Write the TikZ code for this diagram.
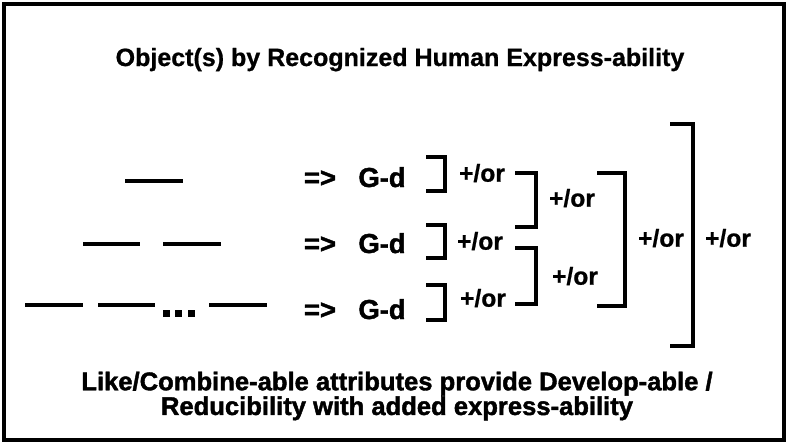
\documentclass[tikz,border=0pt]{standalone}
\usepackage{fontspec}
\setmainfont{Liberation Sans}
\newfontfamily\heavyfont{Liberation Sans Bold}[FakeBold=1.6]
\newfontfamily\boldfont{Liberation Sans Bold}[FakeBold=0.8]
\tikzset{
  frame/.style={draw, line width=2.8pt},
  dashline/.style={line width=2.85pt},
  brkt/.style={line width=3.2pt, line cap=rect},
  titletext/.style={anchor=base, inner sep=0, font=\boldfont\fontsize{17.8}{20}\selectfont},
  mapto/.style={anchor=base, inner sep=0, font=\heavyfont\fontsize{19.5}{22}\selectfont},
  ortext/.style={anchor=center, inner sep=0, font=\boldfont\fontsize{17.5}{20}\selectfont},
  notetext/.style={anchor=center, align=center, inner sep=0, font=\heavyfont\fontsize{18.2}{17.6}\selectfont}
}
\begin{document}
\begin{tikzpicture}
          \useasboundingbox (0,0) rectangle (19.7,11.1);
          % Frame and title:
          \draw[frame] (0.1,0.1) rectangle (19.6,11.0);
          \node[titletext] (title) at (10.0, 9.45){Object(s) by Recognized Human Express-ability};
          % Objects, one, two, many:
          \draw[dashline] (3.125, 6.575) -- (4.575, 6.575);
          \draw[dashline] (2.075, 5.0) -- (3.5, 5.0);
          \draw[dashline] (4.075, 5.0) -- (5.525, 5.0);
          \draw[dashline] (0.625, 3.475) -- (2.075, 3.475);
          \draw[dashline] (2.45, 3.475) -- (3.875, 3.475);
          \draw[dashline] (5.225, 3.475) -- (6.675, 3.475);
          \foreach \dx in {4.15, 4.4625, 4.7875}
            \fill (\dx-0.0875, 3.175) rectangle (\dx+0.0875, 3.35);
          % Mappings:
          \node[mapto] (imp1) at (8.0, 6.425){=>};
          \node[mapto] (imp2) at (8.0, 4.775){=>};
          \node[mapto] (imp3) at (8.0, 3.125){=>};
          \node[mapto] (gd1) at (9.55, 6.425){G-d};
          \node[mapto] (gd2) at (9.55, 4.775){G-d};
          \node[mapto] (gd3) at (9.55, 3.125){G-d};
          % Brackets:
          \draw[brkt] (10.7, 7.175) -- (11.125, 7.175) -- (11.125, 6.325) -- (10.7, 6.325);
          \draw[brkt] (10.7, 5.475) -- (11.125, 5.475) -- (11.125, 4.65) -- (10.7, 4.65);
          \draw[brkt] (10.7, 3.975) -- (11.125, 3.975) -- (11.125, 3.1) -- (10.7, 3.1);
          \node[ortext] (or1) at (12.05, 6.775){+/or};
          \node[ortext] (or2) at (12.0, 5.075){+/or};
          \node[ortext] (or3) at (12.075, 3.65){+/or};
          \draw[brkt] (12.925, 6.775) -- (13.4, 6.775) -- (13.4, 5.425) -- (12.925, 5.425);
          \draw[brkt] (12.925, 4.9) -- (13.4, 4.9) -- (13.4, 3.5) -- (12.925, 3.5);
          \node[ortext] (or12) at (14.3, 6.15){+/or};
          \node[ortext] (or23) at (14.375, 4.2){+/or};
          \draw[brkt] (14.975, 6.775) -- (15.625, 6.775) -- (15.625, 3.45) -- (14.975, 3.45);
          \node[ortext] (orall) at (16.525, 5.15){+/or};
          \draw[brkt] (16.8, 8.0) -- (17.325, 8.0) -- (17.325, 2.45) -- (16.8, 2.45);
          \node[ortext] (orout) at (18.2, 5.15){+/or};
          % Note:
          \node[notetext] (note) at (9.925, 1.2){Like/Combine-able attributes provide Develop-able /\\Reducibility with added express-ability};
\end{tikzpicture}
\end{document}
